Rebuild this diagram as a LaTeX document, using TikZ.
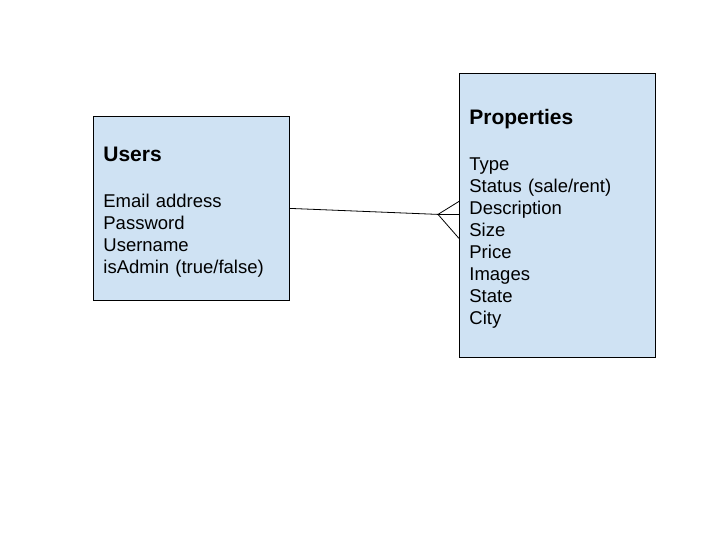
\documentclass[tikz,border=0pt]{standalone}
\usepackage{fontspec}
\setmainfont{Liberation Sans}
\usetikzlibrary{calc}

\definecolor{entityblue}{HTML}{CFE2F3}

\tikzset{
  entity/.style={draw=black, fill=entityblue, line width=0.8pt, align=left,
    text width=176pt, inner xsep=10pt, inner ysep=0pt, anchor=north west,
    font=\fontsize{18.5}{22}\selectfont},
  link/.style={line width=0.8pt}
}
\newcommand{\entitytitle}[1]{{\bfseries\fontsize{21}{22}\selectfont\rule{0pt}{23pt}#1}\\[24pt]}

\begin{document}
\begin{tikzpicture}[x=1pt,y=-1pt]
    \useasboundingbox (0,0) rectangle (720,540);
    % entities
    \node[entity, minimum height=184pt] (users) at (93,116)
      {\entitytitle{Users}Email address\\Password\\Username\\isAdmin (true/false)};
    \node[entity, minimum height=284pt] (props) at (459,73)
      {\entitytitle{Properties}Type\\Status (sale/rent)\\Description\\Size\\Price\\Images\\State\\City};
    % one user -- many properties
    \coordinate (crow) at ($(props.west)+(-21,-1)$);
    \draw[link] (users.east) -- (crow);
    \draw[link] (crow) -- ($(props.west)+(0,-14)$);
    \draw[link] (crow) -- ($(props.west)+(0,-1)$);
    \draw[link] (crow) -- ($(props.west)+(0,23)$);
\end{tikzpicture}
\end{document}
